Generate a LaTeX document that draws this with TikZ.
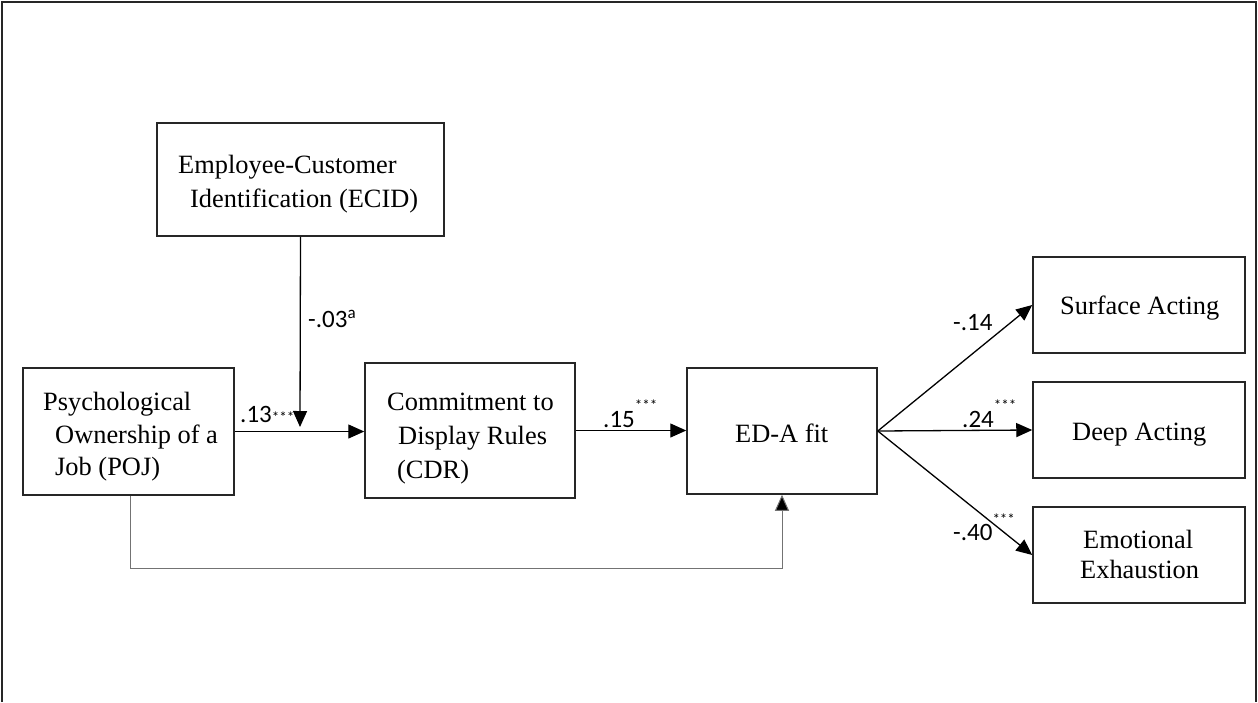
\documentclass[tikz,border=0pt]{standalone}
\usepackage{fontspec}
\setmainfont{Liberation Serif}
\newfontfamily\labfont{Carlito}
\usetikzlibrary{arrows.meta}

\tikzset{
  box/.style={draw=black!85, line width=1.5pt, rectangle, inner sep=0pt},
  boxtext/.style={anchor=base west, inner sep=0pt, font=\fontsize{26.4}{33}\selectfont},
  coef/.style={anchor=base west, inner sep=0pt, font=\labfont\fontsize{25}{30}\selectfont},
  path/.style={draw=black, line width=1.3pt, -{Triangle[length=16pt,width=14pt]}},
  direct/.style={draw=black!55, line width=1pt, -{Triangle[length=16pt,width=14pt,fill=black]}},
}
\newcommand{\sig}[1]{\raisebox{#1}{\fontsize{15}{15}\selectfont ***}}

\begin{document}
\begin{tikzpicture}[x=1pt,y=-1pt]
\useasboundingbox (0,0) rectangle (1258,702);

% outer frame (open at the bottom)
\draw[black!85, line width=2pt] (2,702) -- (2,2) -- (1256,2) -- (1256,702);

% construct boxes
\node[box, minimum width=287pt, minimum height=113pt] (ecid) at (300.5,179.5) {};
\node[box, minimum width=211pt, minimum height=127pt] (poj)  at (128.5,431.5) {};
\node[box, minimum width=210pt, minimum height=135pt] (cdr)  at (470,430.5) {};
\node[box, minimum width=190pt, minimum height=126pt] (eda)  at (782,431) {};
\node[box, minimum width=212pt, minimum height=96pt]  (sa)   at (1139,305) {};
\node[box, minimum width=212pt, minimum height=96pt]  (da)   at (1139,430) {};
\node[box, minimum width=212pt, minimum height=96pt]  (ee)   at (1139,555) {};

% box texts
\node[boxtext] (ecid1) at (178,173) {Employee-Customer};
\node[boxtext] (ecid2) at (190,207) {Identification (ECID)};
\node[boxtext] (poj1) at (43,410) {Psychological};
\node[boxtext] (poj2) at (55,443) {Ownership of a};
\node[boxtext] (poj3) at (55,475) {Job (POJ)};
\node[boxtext] (cdr1) at (387,410) {Commitment to};
\node[boxtext] (cdr2) at (398,444) {Display Rules};
\node[boxtext] (cdr3) at (397,478) {(CDR)};
\node[boxtext] (eda1) at (735,442) {ED-A fit};
\node[boxtext] (sa1) at (1060,314) {Surface Acting};
\node[boxtext] (da1) at (1072,440) {Deep Acting};
\node[boxtext] (ee1) at (1083,548) {Emotional};
\node[boxtext] (ee2) at (1080,578) {Exhaustion};

% paths
\coordinate (modtip) at (300,427);
\coordinate (low) at (0,568);
\draw[path] (poj.east) -- (poj.east -| cdr.west);
\draw[path] (ecid.south) -- (modtip);
\draw[path] (cdr.east) -- (cdr.east -| eda.west);
\draw[path] (eda.east) -- (sa.west);
\draw[path] (eda.east) -- (da.west);
\draw[path] (eda.east) -- (ee.west);
\draw[direct] ([xshift=1.5pt]poj.south) -- ([xshift=1.5pt]poj.south |- low) -| (eda.south);

% path coefficients
\node[coef] (c13) at (240,422) {.13\sig{0pt}};
\node[coef] (c03) at (308,327) {-.03\raisebox{9pt}{\fontsize{17}{17}\selectfont a}};
\node[coef] (c15) at (603,427) {.15\sig{17pt}};
\node[coef] (c14) at (953,330) {-.14};
\node[coef] (c24) at (962,427) {.24\sig{17pt}};
\node[coef] (c40) at (953,540) {-.40\sig{16pt}};
\end{tikzpicture}
\end{document}
